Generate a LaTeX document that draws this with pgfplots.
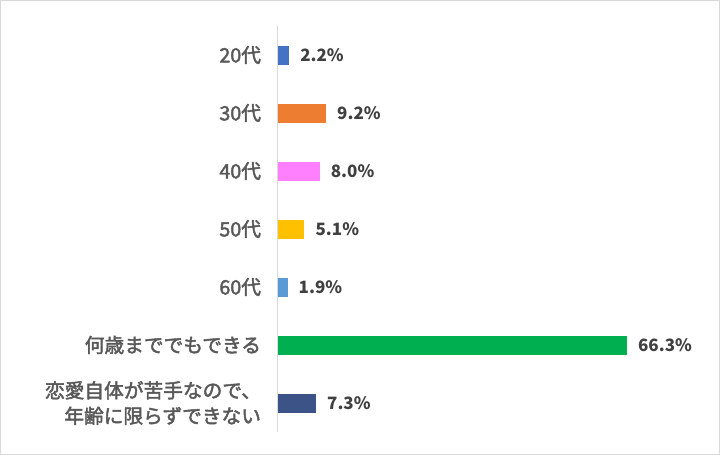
\documentclass[border=0pt]{standalone}
\usepackage{fontspec}
\setmainfont{Noto Sans CJK JP}
\newfontfamily\labelfont{Noto Sans CJK JP}[FakeBold=2.2]
\usepackage{pgfplots}
\pgfplotsset{compat=1.18}
\definecolor{c20}{HTML}{4472C4}
\definecolor{c30}{HTML}{ED7D31}
\definecolor{c40}{HTML}{FF80FF}
\definecolor{c50}{HTML}{FFC000}
\definecolor{c60}{HTML}{5B9BD5}
\definecolor{cany}{HTML}{00B050}
\definecolor{cnot}{HTML}{3B5387}
\definecolor{framegray}{HTML}{D9D9D9}
\definecolor{labelgray}{HTML}{595959}
\definecolor{valgray}{HTML}{404040}

\begin{document}
\begin{tikzpicture}[x=1pt,y=1pt]
\draw[framegray, line width=1.4pt, fill=white] (0.7,0.7) rectangle (719.3,454.3);
\begin{axis}[
    at={(277.5pt,23pt)}, anchor=south west,
    scale only axis, width=421.6pt, height=406pt,
    xbar, bar width=19pt, bar shift=0pt,
    xmin=0, xmax=80,
    ymin=-0.5, ymax=6.5, y dir=reverse,
    axis x line=none,
    axis y line*=left,
    y axis line style={draw=framegray, line width=1pt},
    ytick={0,1,2,3,4,5,6},
    yticklabels={{20代},{30代},{40代},{50代},{60代},{何歳まででもできる},{恋愛自体が苦手なので、\\年齢に限らずできない}},
    major tick length=0pt,
    yticklabel style={font=\labelfont\fontsize{19.7pt}{25.5pt}\selectfont, text=labelgray, align=right, xshift=-13pt},
    /pgf/number format/assume math mode=true,
    nodes near coords={\pgfmathprintnumber[fixed,fixed zerofill,precision=1]{\pgfplotspointmeta}\%},
    nodes near coords style={anchor=west, inner sep=0pt, xshift=11pt,
        font=\fontsize{17pt}{20pt}\selectfont\bfseries, text=valgray},
    clip=false,
]
\addplot[fill=c20, draw=none] coordinates {(2.2,0)};
\addplot[fill=c30, draw=none] coordinates {(9.2,1)};
\addplot[fill=c40, draw=none] coordinates {(8.0,2)};
\addplot[fill=c50, draw=none] coordinates {(5.1,3)};
\addplot[fill=c60, draw=none] coordinates {(1.9,4)};
\addplot[fill=cany, draw=none] coordinates {(66.3,5)};
\addplot[fill=cnot, draw=none] coordinates {(7.3,6)};
\end{axis}
\end{tikzpicture}
\end{document}
